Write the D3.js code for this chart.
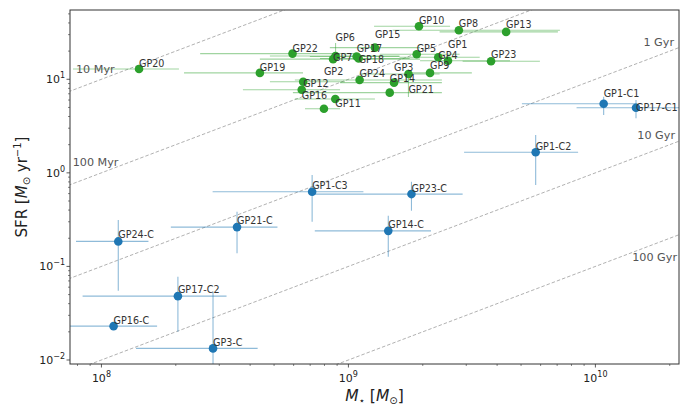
<!DOCTYPE html>
<html>
<head>
<meta charset="utf-8">
<script src="https://cdn.jsdelivr.net/npm/d3@7"></script>
<style>
body{margin:0;background:#fff;}
svg text{font-family:"DejaVu Sans",sans-serif;}
</style>
</head>
<body>
<svg id="chart" width="692" height="405"></svg>
<script>

/// Green Pea galaxies (whole galaxy)
var gpNames = ["GP1","GP2","GP3","GP4","GP5","GP6","GP7","GP8","GP9","GP10","GP11","GP12",
               "GP13","GP14","GP15","GP16","GP17","GP18","GP19","GP20","GP21","GP22","GP23","GP24"];
var gpMass   = [2.53e9, 7.96e8, 1.53e9, 2.31e9, 1.89e9, 8.87e8, 8.67e8, 2.80e9, 2.14e9, 1.93e9, 8.85e8, 6.56e8,
                4.35e9, 1.47e9, 1.28e9, 6.47e8, 1.08e9, 1.10e9, 4.38e8, 1.42e8, 1.75e9, 5.94e8, 3.78e9, 1.11e9];
var gpMassLo = [1.95e9, 6.67e8, 9.25e8, 1.61e9, 1.34e9, 4.81e8, 4.38e8, 1.51e9, 1.77e9, 1.27e9, 6.07e8, 4.81e8,
                2.34e9, 5.96e8, 8.41e8, 3.74e8, 6.98e8, 7.67e8, 2.16e8, 7.67e7, 1.11e9, 2.51e8, 2.90e9, 6.07e8];
var gpMassHi = [4.51e9, 9.25e8, 2.39e9, 3.40e9, 2.82e9, 1.61e9, 1.95e9, 7.18e9, 3.16e9, 2.58e9, 1.28e9, 9.68e8,
                7.05e9, 2.39e9, 1.95e9, 9.25e8, 1.61e9, 1.77e9, 6.55e8, 2.06e8, 2.34e9, 1.11e9, 5.96e9, 2.39e9];
var gpSfr    = [15.8, 4.85, 9.2, 17.2, 18.5, 17.7, 16.4, 33.4, 11.7, 36.9, 6.16, 9.42,
                32.1, 7.2, 21.8, 7.74, 17.5, 16.7, 11.7, 12.9, 11.4, 18.8, 15.6, 9.83];
var gpSfrLo  = [14.7, 4.5, 8.5, 16.0, 17.2, 16.1, 15.2, 31.0, 10.9, 34.3, 5.7, 8.7,
                29.8, 6.7, 20.2, 7.2, 16.2, 15.5, 10.9, 12.0, 6.47, 17.5, 14.5, 9.1];
var gpSfrHi  = [17.0, 5.2, 9.9, 18.5, 19.9, 24.4, 17.7, 36.0, 12.6, 39.7, 6.6, 10.1,
                34.6, 7.8, 23.5, 8.3, 18.8, 18.0, 12.6, 13.9, 12.0, 20.2, 16.8, 10.6];
/// where the name tag sits (SFR units), tags were pushed apart in the original
var gpLabelSfr = [21.5, 11.0, 12.4, 16.4, 19.7, 25.7, 15.7, 36.5, 12.9, 39.0, 5.09, 8.21,
                  35.1, 9.42, 27.5, 6.16, 19.7, 14.9, 12.4, 13.6, 7.08, 19.7, 16.8, 10.6];

/// Clumps
var clumpNames = ["GP1-C1","GP17-C1","GP1-C2","GP23-C","GP1-C3","GP14-C","GP21-C","GP24-C","GP17-C2","GP16-C","GP3-C"];
var clumpMass   = [1.08e10, 1.46e10, 5.73e9, 1.80e9, 7.13e8, 1.45e9, 3.54e8, 1.17e8, 2.04e8, 1.12e8, 2.83e8];
var clumpMassLo = [5.04e9, 8.39e9, 2.94e9, 7.31e8, 2.82e8, 7.31e8, 1.91e8, 7.89e7, 8.39e7, 6.5e7, 1.38e8];
var clumpMassHi = [1.47e10, 2.3e10, 8.51e9, 2.90e9, 1.15e9, 2.16e9, 5.16e8, 1.55e8, 3.21e8, 1.68e8, 4.29e8];
var clumpSfr    = [5.48, 4.97, 1.66, 0.593, 0.628, 0.240, 0.263, 0.185, 0.0481, 0.0230, 0.0133];
var clumpSfrLo  = [4.15, 3.83, 0.741, 0.394, 0.300, 0.127, 0.138, 0.0548, 0.0200, 0.0219, 0.005];
var clumpSfrHi  = [6.52, 6.01, 2.54, 0.803, 0.947, 0.348, 0.384, 0.313, 0.0775, 0.0241, 0.0535];
var clumpLabelSfr = [6.41, 4.61, 1.75, 0.628, 0.671, 0.255, 0.281, 0.199, 0.0514, 0.0242, 0.0141];

/// constant mass-doubling-time lines, SFR = M / t
var ages = [1e7, 1e8, 1e9, 1e10, 1e11];
var ageLabels = ["10 Myr", "100 Myr", "1 Gyr", "10 Gyr", "100 Gyr"];

var xTicks = [1e8, 1e9, 1e10];
var yTicks = [1e-2, 1e-1, 1e0, 1e1];

var svg = d3.select("#chart");
var margin = {top: 10, right: 13, bottom: 41, left: 70};
var width = 692 - margin.left - margin.right;
var height = 405 - margin.top - margin.bottom;

var g = svg.append("g").attr("transform", "translate(" + margin.left + "," + margin.top + ")");

var x = d3.scaleLog().domain([7.46e7, 2.18e10]).range([0, width]);
var y = d3.scaleLog().domain([0.00906, 55]).range([height, 0]);

g.append("clipPath").attr("id", "plotclip")
  .append("rect").attr("width", width).attr("height", height);

var plot = g.append("g").attr("clip-path", "url(#plotclip)");

/// age lines
var ageLine = d3.line()
    .x(function(d) { return x(d.m); })
    .y(function(d) { return y(d.s); });
ages.forEach(function(t) {
  var m0 = 5e7, m1 = 3e10;
  plot.append("path")
    .datum([{m: m0, s: m0 / t}, {m: m1, s: m1 / t}])
    .attr("d", ageLine)
    .attr("fill", "none")
    .attr("stroke", "#a8a8a8")
    .attr("stroke-width", 0.9)
    .attr("stroke-dasharray", "3.5,2");
});

var ageTextPos = [
  {x: 6, y: 73, anchor: "start"},
  {x: 2.7, y: 166, anchor: "start"},
  {x: 604, y: 45.5, anchor: "end"},
  {x: 605, y: 139, anchor: "end"},
  {x: 607, y: 261, anchor: "end"}
];
ageLabels.forEach(function(lab, i) {
  g.append("text")
    .attr("x", ageTextPos[i].x).attr("y", ageTextPos[i].y - margin.top)
    .attr("text-anchor", ageTextPos[i].anchor)
    .attr("font-size", 11.2).attr("fill", "#555")
    .text(lab);
});

/// one series: error bars, markers, names
function drawSeries(names, mass, mLo, mHi, sfr, sLo, sHi, labSfr, color, barOpacity) {
  var eb = plot.append("g")
      .attr("stroke", color).attr("stroke-opacity", barOpacity).attr("stroke-width", 1.1);
  names.forEach(function(n, i) {
    eb.append("line")
      .attr("x1", x(mLo[i])).attr("x2", x(mHi[i]))
      .attr("y1", y(sfr[i])).attr("y2", y(sfr[i]));
    eb.append("line")
      .attr("x1", x(mass[i])).attr("x2", x(mass[i]))
      .attr("y1", y(sLo[i])).attr("y2", y(sHi[i]));
  });
  plot.append("g").selectAll("circle")
    .data(names).enter().append("circle")
      .attr("cx", function(d, i) { return x(mass[i]); })
      .attr("cy", function(d, i) { return y(sfr[i]); })
      .attr("r", 4.3)
      .attr("fill", color);
  return function() {
    g.append("g").selectAll("text")
      .data(names).enter().append("text")
        .attr("x", function(d, i) { return x(mass[i]); })
        .attr("y", function(d, i) { return y(labSfr[i]); })
        .attr("font-size", 9.6)
        .attr("fill", "#333")
        .text(function(d) { return d; });
  };
}

var gpText = drawSeries(gpNames, gpMass, gpMassLo, gpMassHi, gpSfr, gpSfrLo, gpSfrHi, gpLabelSfr, "#2ca02c", 0.45);
var clText = drawSeries(clumpNames, clumpMass, clumpMassLo, clumpMassHi, clumpSfr, clumpSfrLo, clumpSfrHi, clumpLabelSfr, "#1f77b4", 0.5);
gpText();
clText();

/// frame
g.append("rect")
  .attr("width", width).attr("height", height)
  .attr("fill", "none").attr("stroke", "#333").attr("stroke-width", 1);

/// minor ticks
function minors(dom) {
  var out = [];
  for (var e = -3; e <= 11; e++) {
    for (var k = 2; k <= 9; k++) {
      var v = k * Math.pow(10, e);
      if (v >= dom[0] && v <= dom[1]) out.push(v);
    }
  }
  return out;
}
var ax = g.append("g").attr("stroke", "#333");
minors(x.domain()).forEach(function(v) {
  ax.append("line").attr("x1", x(v)).attr("x2", x(v)).attr("y1", height).attr("y2", height + 2).attr("stroke-width", 0.6);
});
minors(y.domain()).forEach(function(v) {
  ax.append("line").attr("x1", 0).attr("x2", -2).attr("y1", y(v)).attr("y2", y(v)).attr("stroke-width", 0.6);
});
xTicks.forEach(function(v) {
  ax.append("line").attr("x1", x(v)).attr("x2", x(v)).attr("y1", height).attr("y2", height + 3.5).attr("stroke-width", 0.8);
});
yTicks.forEach(function(v) {
  ax.append("line").attr("x1", 0).attr("x2", -3.5).attr("y1", y(v)).attr("y2", y(v)).attr("stroke-width", 0.8);
});

/// tick labels 10^n
function powLabel(sel, v) {
  var e = Math.round(Math.log10(v));
  sel.append("tspan").text("10");
  sel.append("tspan").attr("dy", -5).attr("font-size", 8)
    .text(e < 0 ? "\u2212" + (-e) : "" + e);
}
xTicks.forEach(function(v) {
  var t = g.append("text").attr("x", x(v)).attr("y", height + 18)
    .attr("text-anchor", "middle").attr("font-size", 11).attr("fill", "#222");
  powLabel(t, v);
});
yTicks.forEach(function(v) {
  var t = g.append("text").attr("x", -5).attr("y", y(v) + 4)
    .attr("text-anchor", "end").attr("font-size", 11).attr("fill", "#222");
  powLabel(t, v);
});

/// axis titles
var xl = svg.append("text")
  .attr("x", margin.left + width / 2).attr("y", 401)
  .attr("text-anchor", "middle").attr("font-size", 15.5).attr("fill", "#222");
xl.append("tspan").attr("font-style", "italic").text("M");
xl.append("tspan").attr("font-size", 10).attr("dy", 3).text("\u22c6");
xl.append("tspan").attr("dy", -3).text(" [");
xl.append("tspan").attr("font-style", "italic").text("M");
xl.append("tspan").attr("font-size", 10).attr("dy", 3).text("\u2299");
xl.append("tspan").attr("dy", -3).text("]");

var yl = svg.append("text")
  .attr("transform", "translate(27," + (margin.top + height / 2) + ") rotate(-90)")
  .attr("text-anchor", "middle").attr("font-size", 15).attr("fill", "#222");
yl.append("tspan").text("SFR [");
yl.append("tspan").attr("font-style", "italic").text("M");
yl.append("tspan").attr("font-size", 10).attr("dy", 3).text("\u2299");
yl.append("tspan").attr("dy", -3).text(" yr");
yl.append("tspan").attr("font-size", 10).attr("dy", -6).text("\u22121");
yl.append("tspan").attr("dy", 6).text("]");

</script>
</body>
</html>
